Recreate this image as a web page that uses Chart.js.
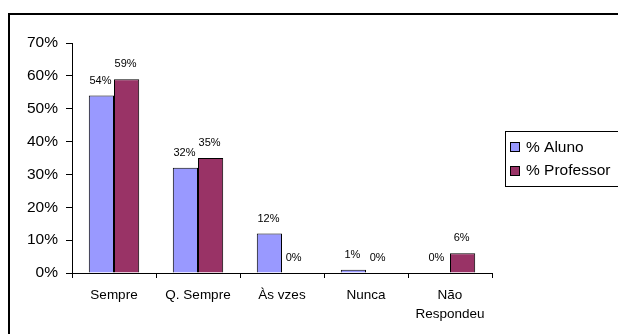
<!DOCTYPE html>
<html><head><meta charset="utf-8">
<script src="https://cdn.jsdelivr.net/npm/chart.js@4/dist/chart.umd.min.js"></script>
<style>html,body{margin:0;padding:0;background:#fff}#wrap{width:618px;height:334px;position:relative}</style>
</head><body><div id="wrap"><canvas id="c" width="618" height="334"></canvas></div>
<script>
const categories = ['Sempre', 'Q. Sempre', 'Às vzes', 'Nunca', ['Não', 'Respondeu']];
const seriesNames = ['% Aluno', '% Professor'];
const aluno = [54, 32, 12, 1, 0];
const professor = [59, 35, 0, 0, 6];
const yMin = 0, yMax = 70, yStep = 10;
const colors = ['#9999FF', '#993366'];
const FONT = '"Liberation Sans", Arial, sans-serif';

const framePlugin = {
  id: 'frame',
  beforeDraw(chart) {
    const ctx = chart.ctx;
    ctx.save();
    ctx.fillStyle = '#fff';
    ctx.fillRect(0, 0, chart.width, chart.height);
    ctx.strokeStyle = '#000';
    ctx.lineWidth = 2;
    ctx.strokeRect(9, 14, 700, 400);
    ctx.restore();
  }
};

const labelPlugin = {
  id: 'dlabels',
  afterDatasetsDraw(chart) {
    const ctx = chart.ctx;
    ctx.save();
    ctx.font = '11px ' + FONT;
    ctx.fillStyle = '#000';
    ctx.textAlign = 'center';
    ctx.textBaseline = 'middle';
    chart.data.datasets.forEach((ds, i) => {
      const meta = chart.getDatasetMeta(i);
      meta.data.forEach((el, j) => {
        ctx.fillText(ds.data[j] + '%', el.x - 1, el.y - 15);
      });
    });
    ctx.restore();
  }
};

const legendPlugin = {
  id: 'customLegend',
  afterDraw(chart) {
    const ctx = chart.ctx;
    ctx.save();
    ctx.strokeStyle = '#000';
    ctx.lineWidth = 1;
    ctx.strokeRect(505.5, 131.5, 130, 55);
    ctx.font = '15.5px ' + FONT;
    ctx.textBaseline = 'middle';
    ctx.textAlign = 'left';
    chart.data.datasets.forEach((ds, i) => {
      const cy = 147 + i * 23.5;
      ctx.fillStyle = ds.backgroundColor;
      ctx.fillRect(510.5, Math.round(cy) - 4.5, 9, 9);
      ctx.strokeStyle = '#000';
      ctx.strokeRect(510.5, Math.round(cy) - 4.5, 9, 9);
      ctx.fillStyle = '#000';
      ctx.fillText(ds.label, 526, cy + 0.5);
    });
    ctx.restore();
  }
};

new Chart(document.getElementById('c'), {
  type: 'bar',
  data: {
    labels: categories,
    datasets: [
      { label: seriesNames[0], data: aluno, backgroundColor: colors[0], borderColor: '#000', borderWidth: 1 },
      { label: seriesNames[1], data: professor, backgroundColor: colors[1], borderColor: '#000', borderWidth: 1 }
    ]
  },
  options: {
    responsive: false,
    animation: false,
    devicePixelRatio: 1,
    layout: { padding: { left: 0, top: 43, right: 126, bottom: 0 } },
    datasets: { bar: { barPercentage: 1, categoryPercentage: 0.6 } },
    plugins: { legend: { display: false }, tooltip: { enabled: false } },
    scales: {
      x: {
        grid: { display: true, drawOnChartArea: false, drawTicks: true, tickLength: 5, color: '#000', offset: true },
        border: { display: true, color: '#000', width: 1 },
        ticks: { color: '#000', font: { family: FONT, size: 13.5, lineHeight: 1.45 }, padding: 7, maxRotation: 0, autoSkip: false },
        afterFit(s) { s.height = 61; }
      },
      y: {
        min: yMin, max: yMax,
        grid: { display: true, drawOnChartArea: false, drawTicks: true, tickLength: 6, color: '#000' },
        border: { display: true, color: '#000', width: 1 },
        ticks: { stepSize: yStep, color: '#000', font: { family: FONT, size: 15.5 }, padding: 8, callback: v => v + '%' },
        afterFit(s) { s.width = 72; }
      }
    }
  },
  plugins: [framePlugin, labelPlugin, legendPlugin]
});
</script>
</body></html>
